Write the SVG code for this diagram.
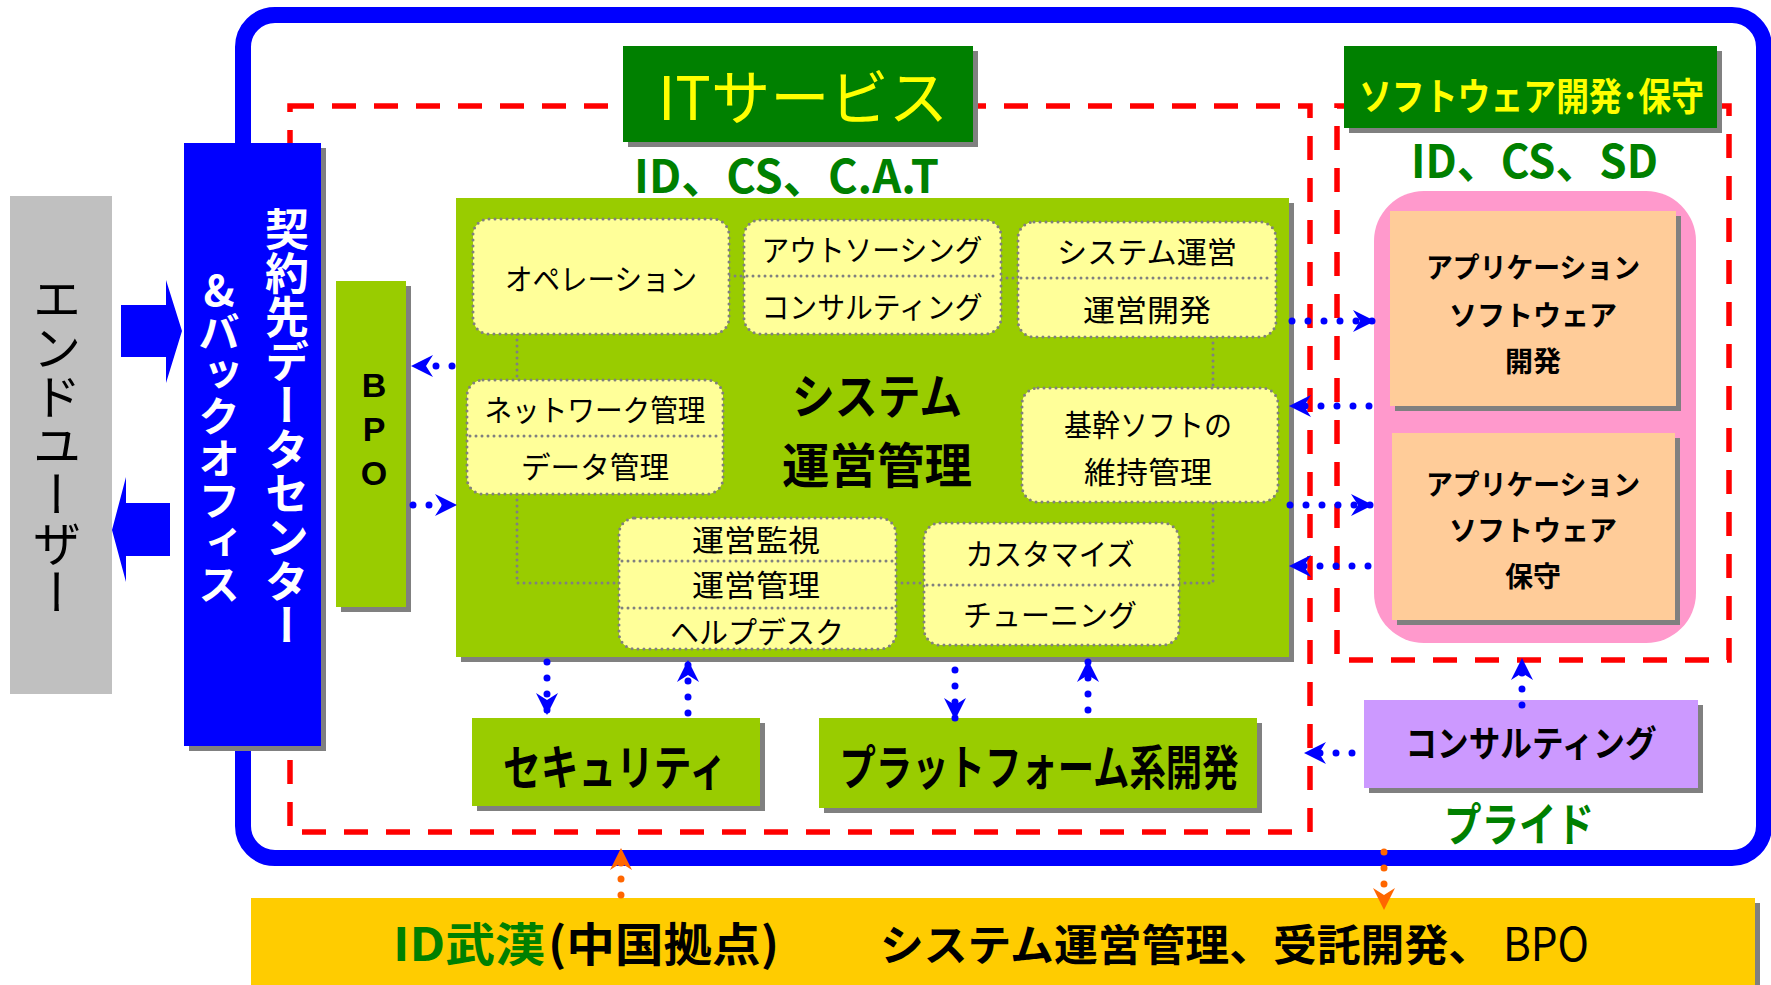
<svg xmlns="http://www.w3.org/2000/svg" width="1771" height="985" viewBox="0 0 1771 985">
<style>
.sh{fill:#808080}
.jp{font-family:"Noto Sans CJK JP","Noto Sans",sans-serif}
.b{font-weight:bold}
.inner{fill:#FFFF99;stroke:#808080;stroke-width:3;stroke-dasharray:0 6;stroke-linecap:round}
.dotg{fill:none;stroke:#808080;stroke-width:3;stroke-dasharray:0 6;stroke-linecap:round}
.arr{fill:none;stroke:#0000FF;stroke-width:7;stroke-dasharray:0 16;stroke-linecap:round;marker-end:url(#ah)}
.arro{fill:none;stroke:#FF6600;stroke-width:7;stroke-dasharray:0 16;stroke-linecap:round;marker-end:url(#aho)}
.red{fill:none;stroke:#FF0000;stroke-width:5.5;stroke-dasharray:24 18}
.t30{font-size:30px;fill:#000}
.mid{text-anchor:middle}
</style>
<defs>
<marker id="ah" markerUnits="userSpaceOnUse" markerWidth="26" markerHeight="26" viewBox="-24 -13 26 26" refX="0" refY="0" orient="auto"><path d="M0,0 L-22,-11 L-15,0 L-22,11 Z" fill="#0000FF"/></marker>
<marker id="aho" markerUnits="userSpaceOnUse" markerWidth="26" markerHeight="26" viewBox="-24 -13 26 26" refX="0" refY="0" orient="auto"><path d="M0,0 L-22,-11 L-15,0 L-22,11 Z" fill="#FF6600"/></marker>
</defs>
<rect width="1771" height="985" fill="#FFFFFF"/>

<g id="outer-frame"><rect x="243" y="15" width="1521" height="843" rx="32" fill="none" stroke="#0000FF" stroke-width="16"/></g>
<g id="it-service-area"><rect class="red" x="290" y="106" width="1020" height="726"/></g>
<g id="software-area"><rect class="red" x="1337" y="106" width="392" height="554"/></g>

<g id="it-service-label">
<rect class="sh" x="628" y="51" width="350" height="96"/>
<rect x="623" y="46" width="350" height="96" fill="#008000"/>
<text class="jp mid" x="803" y="120" font-size="60" fill="#FFFF00" textLength="290" lengthAdjust="spacingAndGlyphs">ITサービス</text>
<text class="jp b" x="634" y="193" font-size="46" fill="#008000" textLength="305" lengthAdjust="spacingAndGlyphs">ID、CS、C.A.T</text>
</g>

<g id="software-label">
<rect class="sh" x="1349" y="51" width="373" height="82"/>
<rect x="1344" y="46" width="373" height="82" fill="#008000"/>
<text class="jp b" x="1359" y="110" font-size="38" fill="#FFFF00" textLength="345" lengthAdjust="spacingAndGlyphs">ソフトウェア開発･保守</text>
<text class="jp b" x="1411" y="178" font-size="46" fill="#008000" textLength="247" lengthAdjust="spacingAndGlyphs">ID、CS、SD</text>
</g>

<g id="end-user">
<rect x="10" y="196" width="102" height="498" fill="#C0C0C0"/>
<text class="jp mid" x="57" y="445" font-size="49" fill="#000" style="writing-mode:vertical-rl">エンドユーザー</text>
</g>

<g id="user-arrows">
<polygon points="121,305 166,305 166,280 182,331 166,383 166,357 121,357" fill="#0000FF"/>
<polygon points="170,503 126,503 126,477 112,530 126,582 126,556 170,556" fill="#0000FF"/>
</g>

<g id="datacenter">
<rect class="sh" x="189" y="148" width="137" height="603"/>
<rect x="184" y="143" width="137" height="603" fill="#0000FF"/>
<text class="jp b mid" x="287" y="427" font-size="44" fill="#FFFFFF" style="writing-mode:vertical-rl">契約先データセンター</text>
<text class="jp b mid" x="219" y="437" font-size="42" fill="#FFFFFF" style="writing-mode:vertical-rl;text-orientation:upright">&amp;バックオフィス</text>
</g>

<g id="bpo">
<rect class="sh" x="341" y="286" width="70" height="326"/>
<rect x="336" y="281" width="70" height="326" fill="#99CC00"/>
<g font-family="Liberation Sans, Arial, sans-serif" font-weight="bold" font-size="34" text-anchor="middle" fill="#000">
<text x="374" y="397">B</text><text x="374" y="441">P</text><text x="374" y="485">O</text>
</g>
</g>

<g id="system-ops">
<rect class="sh" x="461" y="203" width="833" height="459"/>
<rect x="456" y="198" width="833" height="459" fill="#99CC00"/>
<text class="jp b mid" x="877" y="414" font-size="48" fill="#000" textLength="170" lengthAdjust="spacingAndGlyphs">システム</text>
<text class="jp b mid" x="877" y="483" font-size="48" fill="#000" textLength="190" lengthAdjust="spacingAndGlyphs">運営管理</text>
</g>

<g id="inner-links">
<path class="dotg" d="M517,334 V380"/>
<path class="dotg" d="M517,494 V583 H619"/>
<path class="dotg" d="M896,583 H924"/>
<path class="dotg" d="M1179,583 H1213 V502"/>
<path class="dotg" d="M1213,337 V388"/>
<path class="dotg" d="M729,276 H744"/>
<path class="dotg" d="M1001,278 H1018"/>
</g>

<g id="operation">
<rect class="inner" x="473" y="219" width="256" height="115" rx="16"/>
<text class="jp t30 mid" x="601" y="290" textLength="192" lengthAdjust="spacingAndGlyphs">オペレーション</text>
</g>
<g id="outsourcing">
<rect class="inner" x="744" y="220" width="257" height="114" rx="16"/>
<path class="dotg" d="M747,276 H998"/>
<text class="jp t30 mid" x="872" y="261" textLength="221" lengthAdjust="spacingAndGlyphs">アウトソーシング</text>
<text class="jp t30 mid" x="872" y="318" textLength="221" lengthAdjust="spacingAndGlyphs">コンサルティング</text>
</g>
<g id="system-operation">
<rect class="inner" x="1018" y="222" width="258" height="115" rx="16"/>
<path class="dotg" d="M1021,278 H1273"/>
<text class="jp t30 mid" x="1147" y="263" textLength="180" lengthAdjust="spacingAndGlyphs">システム運営</text>
<text class="jp t30 mid" x="1147" y="321" textLength="128" lengthAdjust="spacingAndGlyphs">運営開発</text>
</g>
<g id="network">
<rect class="inner" x="467" y="380" width="256" height="114" rx="16"/>
<path class="dotg" d="M470,436 H720"/>
<text class="jp t30 mid" x="595" y="421" textLength="221" lengthAdjust="spacingAndGlyphs">ネットワーク管理</text>
<text class="jp t30 mid" x="595" y="478" textLength="148" lengthAdjust="spacingAndGlyphs">データ管理</text>
</g>
<g id="core-software">
<rect class="inner" x="1022" y="388" width="256" height="114" rx="16"/>
<text class="jp t30 mid" x="1148" y="436" textLength="168" lengthAdjust="spacingAndGlyphs">基幹ソフトの</text>
<text class="jp t30 mid" x="1148" y="483" textLength="128" lengthAdjust="spacingAndGlyphs">維持管理</text>
</g>
<g id="monitoring">
<rect class="inner" x="619" y="518" width="277" height="131" rx="16"/>
<path class="dotg" d="M622,561 H893"/>
<path class="dotg" d="M622,608 H893"/>
<text class="jp t30 mid" x="756" y="551" textLength="128" lengthAdjust="spacingAndGlyphs">運営監視</text>
<text class="jp t30 mid" x="756" y="596" textLength="128" lengthAdjust="spacingAndGlyphs">運営管理</text>
<text class="jp t30 mid" x="757" y="643" textLength="174" lengthAdjust="spacingAndGlyphs">ヘルプデスク</text>
</g>
<g id="customize">
<rect class="inner" x="924" y="523" width="255" height="122" rx="16"/>
<path class="dotg" d="M927,585 H1176"/>
<text class="jp t30 mid" x="1050" y="565" textLength="169" lengthAdjust="spacingAndGlyphs">カスタマイズ</text>
<text class="jp t30 mid" x="1050" y="626" textLength="174" lengthAdjust="spacingAndGlyphs">チューニング</text>
</g>

<g id="app-software">
<rect x="1374" y="191" width="322" height="452" rx="50" fill="#FF99CC"/>
</g>
<g id="app-dev">
<rect class="sh" x="1395" y="216" width="286" height="195"/>
<rect x="1390" y="211" width="286" height="195" fill="#FFCC99"/>
<g class="jp b mid" font-size="28" fill="#000">
<text x="1533" y="278" textLength="214" lengthAdjust="spacingAndGlyphs">アプリケーション</text>
<text x="1533" y="326">ソフトウェア</text>
<text x="1533" y="372">開発</text>
</g>
</g>
<g id="app-maint">
<rect class="sh" x="1397" y="438" width="283" height="187"/>
<rect x="1392" y="433" width="283" height="187" fill="#FFCC99"/>
<g class="jp b mid" font-size="28" fill="#000">
<text x="1533" y="495" textLength="214" lengthAdjust="spacingAndGlyphs">アプリケーション</text>
<text x="1533" y="541">ソフトウェア</text>
<text x="1533" y="587">保守</text>
</g>
</g>

<g id="consulting">
<rect class="sh" x="1369" y="705" width="334" height="88"/>
<rect x="1364" y="700" width="334" height="88" fill="#CC99FF"/>
<text class="jp b mid" x="1531" y="757" font-size="36" fill="#000" textLength="251" lengthAdjust="spacingAndGlyphs">コンサルティング</text>
<text class="jp b mid" x="1519" y="841" font-size="46" fill="#008000" textLength="150" lengthAdjust="spacingAndGlyphs">プライド</text>
</g>

<g id="security">
<rect class="sh" x="477" y="723" width="288" height="88"/>
<rect x="472" y="718" width="288" height="88" fill="#99CC00"/>
<text class="jp b mid" x="615" y="785" font-size="48" fill="#000" textLength="224" lengthAdjust="spacingAndGlyphs">セキュリティ</text>
</g>

<g id="platform">
<rect class="sh" x="824" y="723" width="438" height="90"/>
<rect x="819" y="718" width="438" height="90" fill="#99CC00"/>
<text class="jp b mid" x="1039" y="785" font-size="48" fill="#000" textLength="399" lengthAdjust="spacingAndGlyphs">プラットフォーム系開発</text>
</g>

<g id="wuhan">
<rect class="sh" x="256" y="903" width="1504" height="100"/>
<rect x="251" y="898" width="1504" height="100" fill="#FFCC00"/>
<text class="jp b" x="393" y="961" font-size="46" fill="#008000" textLength="152" lengthAdjust="spacingAndGlyphs">ID武漢</text>
<text class="jp b" x="548" y="961" font-size="46" fill="#000" textLength="231" lengthAdjust="spacingAndGlyphs">(中国拠点)</text>
<text class="jp b" x="880" y="961" font-size="43" fill="#000" textLength="612" lengthAdjust="spacingAndGlyphs">システム運営管理、受託開発、</text>
<text class="jp" x="1503" y="961" font-size="46" fill="#000" textLength="86" lengthAdjust="spacingAndGlyphs">BPO</text>
</g>

<g id="connectors">
<path class="arr" d="M452,366 H411"/>
<path class="arr" d="M413,505 H457"/>
<path class="arr" d="M547,662 V715"/>
<path class="arr" d="M688,713 V660"/>
<path class="arr" d="M955,670 V720"/>
<path class="arr" d="M1088,710 V660"/>
<path class="arr" d="M1292,321 H1375"/>
<path class="arr" d="M1369,406 H1289"/>
<path class="arr" d="M1290,505 H1373"/>
<path class="arr" d="M1368,566 H1289"/>
<path class="arr" d="M1522,705 V658"/>
<path class="arr" d="M1352,753 H1304"/>
<path class="arro" d="M621,895 V848"/>
<path class="arro" d="M1384,852 V910"/>
</g>
</svg>
